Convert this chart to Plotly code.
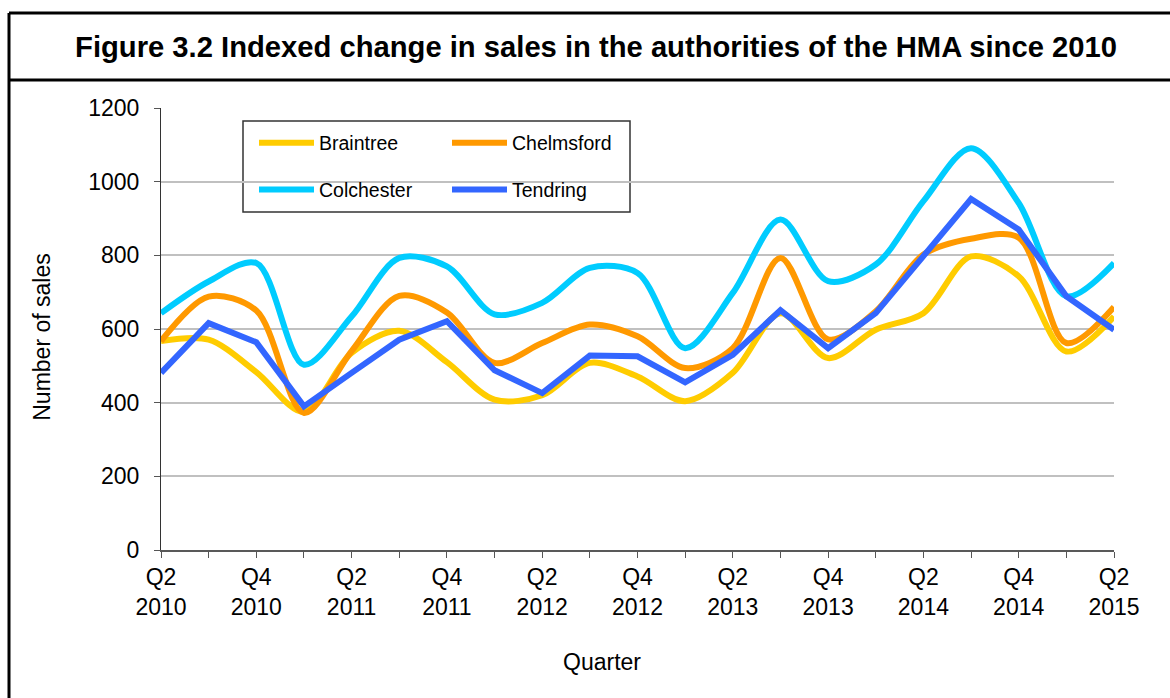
import plotly.graph_objects as go

quarters = ["Q2 2010", "Q3 2010", "Q4 2010", "Q1 2011", "Q2 2011", "Q3 2011", "Q4 2011",
            "Q1 2012", "Q2 2012", "Q3 2012", "Q4 2012", "Q1 2013", "Q2 2013", "Q3 2013",
            "Q4 2013", "Q1 2014", "Q2 2014", "Q3 2014", "Q4 2014", "Q1 2015", "Q2 2015"]
tick_text = ["Q2<br>2010", "", "Q4<br>2010", "", "Q2<br>2011", "", "Q4<br>2011", "",
             "Q2<br>2012", "", "Q4<br>2012", "", "Q2<br>2013", "", "Q4<br>2013", "",
             "Q2<br>2014", "", "Q4<br>2014", "", "Q2<br>2015"]

braintree = [567, 571, 483, 375, 535, 595, 510, 408, 420, 508, 471, 404, 481, 643,
             521, 598, 643, 797, 743, 539, 634]
chelmsford = [567, 688, 650, 372, 540, 690, 645, 508, 562, 612, 580, 494, 548, 793,
              572, 648, 802, 845, 848, 562, 660]
colchester = [643, 729, 779, 503, 634, 793, 770, 640, 671, 766, 752, 548, 698, 897,
              730, 775, 947, 1091, 942, 689, 779]
tendring = [481, 616, 564, 390, 481, 571, 621, 488, 426, 528, 526, 455, 530, 651,
            548, 643, 798, 953, 870, 689, 598]

series = [
    ("Braintree", braintree, "#FFCC00", "spline", "legend"),
    ("Chelmsford", chelmsford, "#FF9900", "spline", "legend"),
    ("Colchester", colchester, "#00CCFF", "spline", "legend2"),
    ("Tendring", tendring, "#3366FF", "linear", "legend2"),
]

FONT = "Liberation Sans, Arial, sans-serif"

fig = go.Figure()
for name, vals, color, shape, leg in series:
    line = dict(color=color, width=6, shape=shape)
    if shape == "spline":
        line["smoothing"] = 0.9
    fig.add_trace(go.Scatter(x=quarters, y=vals, mode="lines", name=name,
                             line=line, legend=leg))

# pixel -> paper helpers
L, R, T, B = 161, 1114, 108, 550.5
def px(x):
    return (x - L) / (R - L)
def py(y):
    return (B - y) / (B - T)

shapes = [
    # outer frame
    dict(type="line", xref="paper", yref="paper", x0=px(9), x1=px(9), y0=py(13), y1=py(700),
         line=dict(color="black", width=3)),
    dict(type="line", xref="paper", yref="paper", x0=px(9), x1=px(1172), y0=py(13), y1=py(13),
         line=dict(color="black", width=3)),
    dict(type="line", xref="paper", yref="paper", x0=px(9), x1=px(1172), y0=py(80), y1=py(80),
         line=dict(color="black", width=3)),
    # legend box
    dict(type="rect", xref="paper", yref="paper", x0=px(243), x1=px(630), y0=py(121), y1=py(212),
         line=dict(color="#333333", width=1.5), fillcolor="white", layer="below"),
]

annotations = [
    dict(text="Number of sales", xref="paper", yref="paper", x=px(42), y=py(338),
         textangle=-90, showarrow=False, xanchor="center", yanchor="middle",
         font=dict(family=FONT, size=23, color="black")),
    dict(text="Quarter", xref="paper", yref="paper", x=px(602), y=py(663),
         showarrow=False, xanchor="center", yanchor="middle",
         font=dict(family=FONT, size=23, color="black")),
]

fig.update_layout(
    width=1170, height=698,
    margin=dict(l=L, r=1170 - R, t=T, b=698 - B),
    paper_bgcolor="white", plot_bgcolor="white",
    font=dict(family=FONT, color="black"),
    title=dict(text="<b>Figure 3.2 Indexed change in sales in the authorities of the HMA since 2010</b>",
               xref="container", yref="container", x=596 / 1170, y=1 - 47 / 698,
               xanchor="center", yanchor="middle",
               font=dict(family=FONT, size=29.2, color="black")),
    shapes=shapes,
    annotations=annotations,
    legend=dict(orientation="h", x=px(254), y=py(143), xanchor="left", yanchor="middle",
                bgcolor="rgba(0,0,0,0)", borderwidth=0, entrywidth=123, itemwidth=55,
                font=dict(family=FONT, size=19.5, color="black")),
    legend2=dict(orientation="h", x=px(254), y=py(190), xanchor="left", yanchor="middle",
                 bgcolor="rgba(0,0,0,0)", borderwidth=0, entrywidth=123, itemwidth=55,
                 font=dict(family=FONT, size=19.5, color="black")),
    xaxis=dict(type="category", range=[0, 20], tickmode="array", tickvals=quarters,
               ticktext=tick_text, ticks="outside", ticklen=6, tickcolor="#555555",
               showline=True, linecolor="#595959", linewidth=1.5, showgrid=False,
               tickfont=dict(family=FONT, size=23, color="black")),
    yaxis=dict(range=[0, 1200], dtick=200, ticks="outside", ticklen=6, tickcolor="#555555",
               showline=True, linecolor="#333333", linewidth=1, showgrid=True,
               gridcolor="#C0C0C0", gridwidth=2, zeroline=False, ticklabelstandoff=10,
               tickfont=dict(family=FONT, size=23, color="black")),
    showlegend=True,
)

fig.write_html("out.html", config={"displayModeBar": False},
               post_script="document.body.style.margin='0px';document.body.style.overflow='hidden';")
